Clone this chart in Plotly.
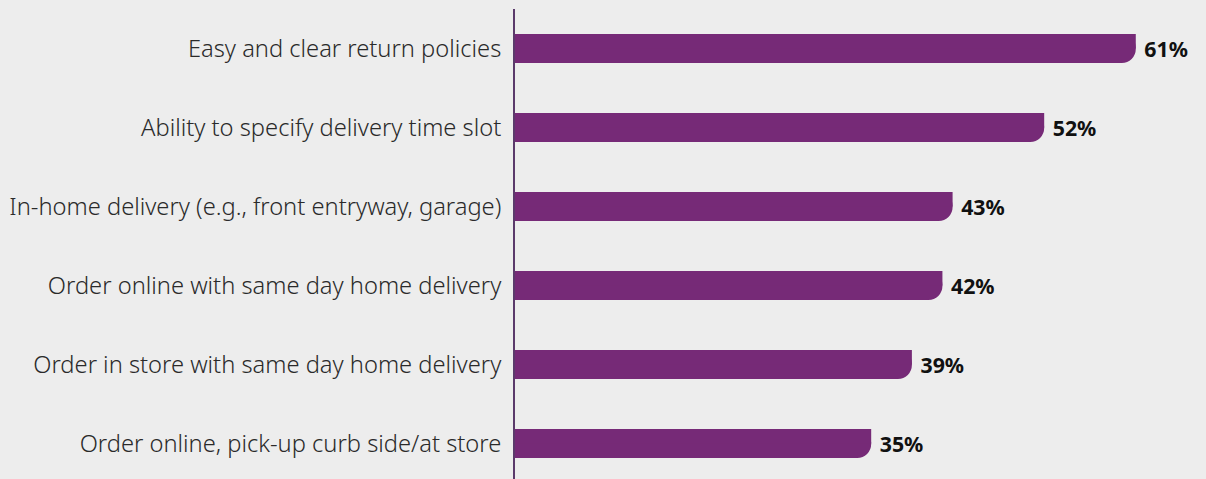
import plotly.graph_objects as go

categories = [
    "Easy and clear return policies",
    "Ability to specify delivery time slot",
    "In-home delivery (e.g., front entryway, garage)",
    "Order online with same day home delivery",
    "Order in store with same day home delivery",
    "Order online, pick-up curb side/at store",
]
values = [61, 52, 43, 42, 39, 35]
labels = [f"{v}%" for v in values]

BAR = "#762a77"
BG = "#ededed"
W = 0.368

fig = go.Figure()
# full-height bars with rounded ends
fig.add_trace(go.Bar(
    y=categories, x=values, orientation="h", width=W,
    marker=dict(color=BAR, cornerradius=14, line=dict(width=0)),
    text=labels, textposition="outside", cliponaxis=False,
    texttemplate=" %{text}",
    textfont=dict(family="Noto Sans", size=22, color="#111111", weight="bold"),
    hoverinfo="skip",
))
# top half square to keep the top-right corner sharp
fig.add_trace(go.Bar(
    y=categories, x=values, orientation="h", width=W / 2, offset=-W / 2,
    marker=dict(color=BAR, cornerradius=0, line=dict(width=0)),
    hoverinfo="skip",
))

fig.update_layout(
    width=1206, height=479,
    margin=dict(l=515, r=0, t=9, b=0),
    paper_bgcolor=BG, plot_bgcolor=BG,
    showlegend=False, barmode="overlay",
    font=dict(family="Noto Sans", size=23.7, color="#2a2a2a"),
    xaxis=dict(range=[0, 67.9], visible=False, showgrid=False, zeroline=False),
    yaxis=dict(
        type="category", categoryorder="array", categoryarray=categories,
        range=[5.45, -0.5],
        showline=True, linecolor="#5b3a6b", linewidth=2,
        showgrid=False, zeroline=False,
        ticks="", ticklabelstandoff=7,
        tickfont=dict(family="Noto Sans", size=23.7, color="#2a2a2a", weight=300),
    ),
)

fig.write_html(
    "out.html",
    config={"displayModeBar": False},
    post_script="document.body.style.margin='0';document.body.style.overflow='hidden';",
)
